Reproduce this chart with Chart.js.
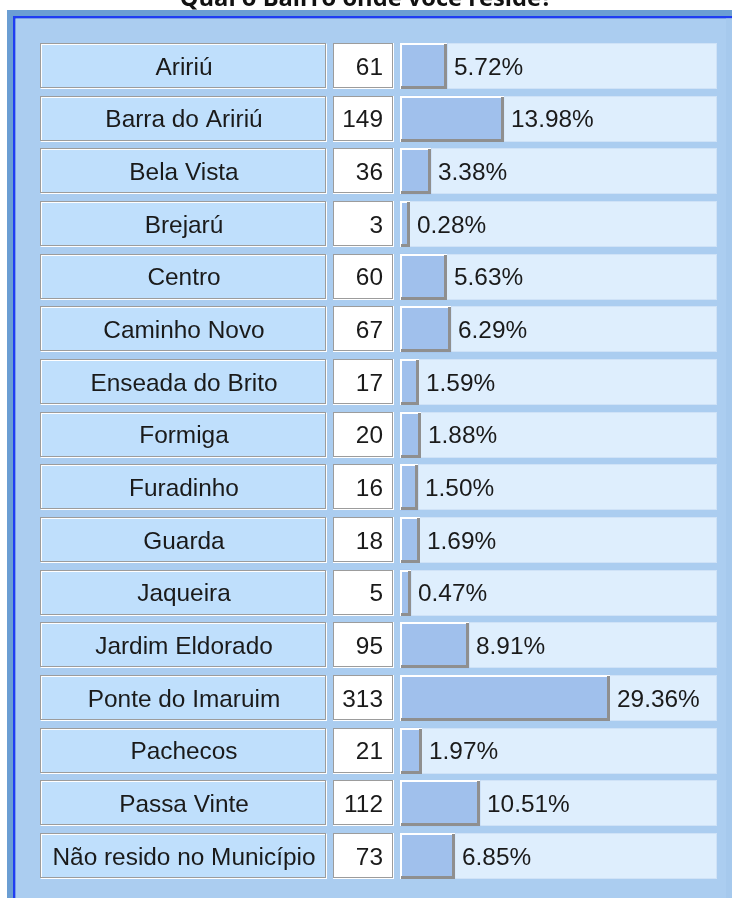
<!DOCTYPE html>
<html><head><meta charset="utf-8">
<script src="https://cdn.jsdelivr.net/npm/chart.js@4/dist/chart.umd.min.js"></script>
<style>
html,body{margin:0;padding:0;background:#fff;overflow:hidden;width:732px;height:898px;}
#wrap{position:absolute;left:0;top:-20px;width:732px;height:918px;}
</style></head><body>
<div id="wrap"><canvas id="c" width="732" height="918"></canvas></div>
<script>
const chartTitle = 'Qual o Bairro onde você reside?';
const categories = ['Aririú','Barra do Aririú','Bela Vista','Brejarú','Centro','Caminho Novo','Enseada do Brito','Formiga','Furadinho','Guarda','Jaqueira','Jardim Eldorado','Ponte do Imaruim','Pachecos','Passa Vinte','Não resido no Município'];
const counts = [61,149,36,3,60,67,17,20,16,18,5,95,313,21,112,73];
const percentLabels = ['5.72%','13.98%','3.38%','0.28%','5.63%','6.29%','1.59%','1.88%','1.50%','1.69%','0.47%','8.91%','29.36%','1.97%','10.51%','6.85%'];
const countLabels = counts.map(String);

const OFF = 20;
const FONT = '"Liberation Sans", Arial, sans-serif';
const FSIZE = 24.4;
const TEXT = '#1a1a1a';
const BG_RIGHT_GAP = 15;

function etched(ctx, x, y, w, h, fill) {
  ctx.fillStyle = fill; ctx.fillRect(x, y, w, h);
  ctx.lineWidth = 1;
  ctx.strokeStyle = '#ffffff'; ctx.strokeRect(x + 1.5, y + 1.5, w - 2, h - 2);
  ctx.strokeStyle = '#9c9c9c'; ctx.strokeRect(x + 0.5, y + 0.5, w - 2, h - 2);
}

const panelPlugin = {
  id: 'panel',
  beforeDraw(chart) {
    const ctx = chart.ctx;
    const ca = chart.chartArea;
    ctx.save();
    ctx.fillStyle = '#ffffff'; ctx.fillRect(0, 0, 732, 918);
    ctx.fillStyle = '#6b9ed3'; ctx.fillRect(7, 10 + OFF, 725, 900);
    ctx.fillStyle = '#1f3df2'; ctx.fillRect(13, 16 + OFF, 719, 2.5); ctx.fillRect(13, 16 + OFF, 2.5, 900);
    ctx.fillStyle = '#abcdf0'; ctx.fillRect(15.5, 18.5 + OFF, 720, 900);
    ctx.fillStyle = '#a6c9ed'; ctx.fillRect(726, 18.5 + OFF, 6, 900);
    const meta = chart.getDatasetMeta(0);
    const bgRight = ca.right - BG_RIGHT_GAP;
    meta.data.forEach((bar) => {
      const top = Math.round(bar.y - bar.height / 2);
      const hh = Math.round(bar.height);
      etched(ctx, 40, top, 287, hh, '#bfdffc');
      etched(ctx, 333, top, 61, hh, '#ffffff');
      ctx.fillStyle = '#deeefd'; ctx.fillRect(ca.left, top, bgRight - ca.left, hh);
      ctx.strokeStyle = '#cfe2f7'; ctx.lineWidth = 1;
      ctx.strokeRect(ca.left + 0.5, top + 0.5, bgRight - ca.left - 1, hh - 1);
    });
    ctx.restore();
  },
  afterDatasetsDraw(chart) {
    const ctx = chart.ctx;
    const meta = chart.getDatasetMeta(0);
    ctx.save();
    meta.data.forEach((bar, i) => {
      const left = Math.round(bar.base), right = Math.round(bar.x);
      const top = Math.round(bar.y - bar.height / 2), bottom = top + Math.round(bar.height);
      ctx.fillStyle = '#ffffff';
      ctx.fillRect(left, top, right - left, 2);
      ctx.fillRect(left, top, 2, bottom - top);
      ctx.fillStyle = '#8f8f8f';
      ctx.fillRect(right - 3, top + 1, 3, bottom - top - 1);
      ctx.fillRect(left + 1, bottom - 3, right - left - 1, 3);
      ctx.fillStyle = TEXT;
      ctx.font = FSIZE + 'px ' + FONT;
      ctx.textBaseline = 'middle';
      ctx.textAlign = 'left';
      ctx.fillText(percentLabels[i], right + 7, bar.y + 2);
    });
    ctx.restore();
  }
};

function fixAxis(width) {
  return function (s) { s.width = width; s.paddingTop = 0; s.paddingBottom = 0; };
}

new Chart(document.getElementById('c'), {
  type: 'bar',
  data: {
    labels: categories,
    datasets: [{
      data: counts,
      base: -12.4,
      backgroundColor: '#a0c0ec',
      borderWidth: 0,
      barPercentage: 0.875,
      categoryPercentage: 1
    }]
  },
  options: {
    indexAxis: 'y',
    responsive: false,
    devicePixelRatio: 1,
    animation: false,
    events: [],
    layout: { padding: { top: 0, left: 0, right: 0, bottom: 15.7 } },
    plugins: {
      legend: { display: false },
      tooltip: { enabled: false },
      title: {
        display: true,
        text: chartTitle,
        color: '#111',
        font: { family: '"Open Sans", "DejaVu Sans", sans-serif', size: 23.7, weight: 'bold' },
        padding: { top: 5.5, bottom: 25.8 }
      }
    },
    scales: {
      x: { type: 'linear', min: -12.4, max: 502.3, display: false },
      y: {
        type: 'category', position: 'left', weight: 1,
        grid: { display: false, drawTicks: false }, border: { display: false },
        ticks: { crossAlign: 'center', padding: 14.5, color: TEXT, font: { family: FONT, size: FSIZE }, autoSkip: false, labelOffset: 2 },
        afterFit: fixAxis(330)
      },
      yc: {
        type: 'category', labels: countLabels, position: 'left', weight: 0,
        grid: { display: false, drawTicks: false }, border: { display: false },
        ticks: { padding: 17, color: TEXT, font: { family: FONT, size: FSIZE }, autoSkip: false, labelOffset: 2 },
        afterFit: fixAxis(70)
      }
    }
  },
  plugins: [panelPlugin]
});
</script>
</body></html>
